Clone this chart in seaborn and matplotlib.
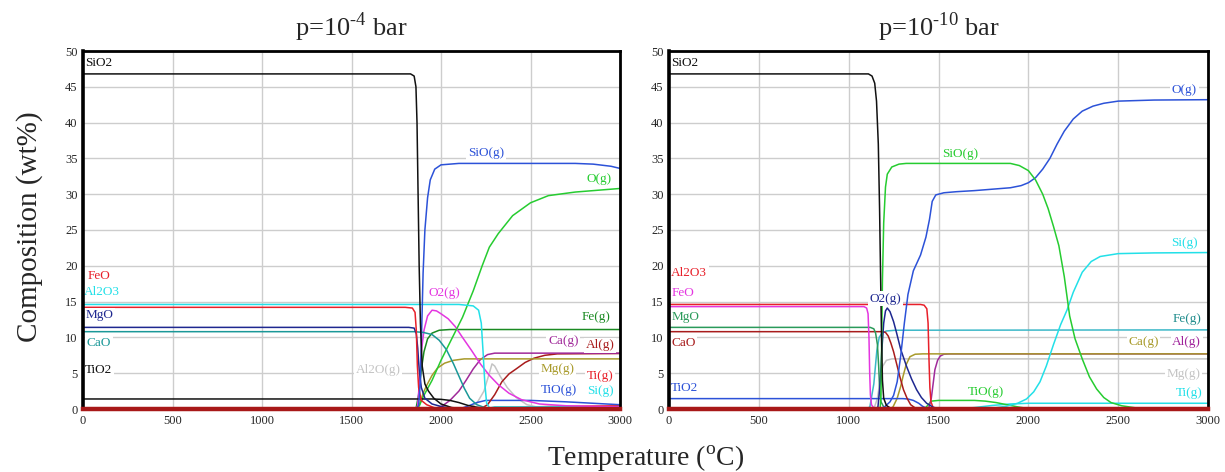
import matplotlib
matplotlib.use("Agg")
import matplotlib.pyplot as plt
import pandas as pd
import seaborn as sns

# ---------------- p = 1e-4 bar : (temperature degC, wt%) ----------------
A_SiO2 = [(0, 46.8), (1830, 46.8), (1850, 46.5), (1860, 45), (1866, 40), (1872, 30), (1878, 20),
          (1885, 12), (1895, 6), (1910, 3.5), (1930, 2.5), (1960, 1.5), (2000, 0.7), (2060, 0.2),
          (2150, 0), (3000, 0)]
A_SiOg = [(0, 0), (1860, 0), (1875, 0.5), (1885, 4), (1892, 11), (1900, 19), (1910, 25), (1925, 29.5),
          (1940, 32), (1965, 33.5), (2000, 34.1), (2100, 34.3), (2750, 34.3), (2850, 34.2),
          (2950, 33.9), (3000, 33.6)]
A_Og = [(0, 0), (1860, 0), (1880, 0.5), (1900, 1.7), (1950, 4), (2000, 6.8), (2060, 9.8), (2120, 12.8),
        (2180, 16.5), (2230, 20), (2270, 22.6), (2320, 24.5), (2400, 27), (2500, 28.8), (2600, 29.8),
        (2750, 30.3), (3000, 30.8)]
A_FeO = [(0, 14.2), (1800, 14.2), (1840, 14.1), (1855, 13.5), (1862, 11), (1868, 6), (1875, 3),
         (1890, 1.2), (1920, 0.6), (1960, 0.2), (2000, 0), (3000, 0)]
A_Al2O3 = [(0, 14.6), (2100, 14.6), (2180, 14.4), (2210, 13.8), (2225, 12), (2235, 8), (2245, 3.5),
           (2255, 0.8), (2270, 0.2), (2300, 0), (3000, 0)]
A_MgO = [(0, 11.4), (1820, 11.4), (1850, 11.3), (1862, 10.5), (1870, 8.5), (1878, 5.5), (1890, 3),
         (1910, 1.5), (1950, 0.7), (2000, 0.35), (2050, 0.15), (2100, 0), (3000, 0)]
A_CaO = [(0, 10.8), (1850, 10.8), (1900, 10.7), (1950, 10.4), (1990, 9.6), (2030, 8.3), (2070, 6.3),
         (2100, 4.6), (2130, 2.9), (2160, 1.5), (2200, 0.6), (2250, 0.15), (2300, 0), (3000, 0)]
A_TiO2 = [(0, 1.4), (1950, 1.4), (2000, 1.35), (2050, 1.2), (2100, 0.9), (2150, 0.5), (2200, 0.25),
          (2250, 0.1), (2300, 0), (3000, 0)]
A_O2g = [(0, 0), (1860, 0), (1870, 0.5), (1880, 4), (1890, 8), (1905, 11), (1925, 13), (1950, 13.8),
         (1975, 13.7), (2000, 13.3), (2040, 12.6), (2080, 11.5), (2120, 10), (2170, 8.2), (2220, 6.3),
         (2270, 4.7), (2320, 3.4), (2380, 2.2), (2450, 1.3), (2550, 0.7), (2700, 0.45), (3000, 0.3)]
A_Feg = [(0, 0), (1860, 0), (1875, 2), (1890, 5.5), (1905, 8), (1925, 9.8), (1950, 10.6), (1990, 11),
         (2050, 11.1), (3000, 11.1)]
A_Cag = [(0, 0), (1950, 0), (2000, 0.3), (2050, 1.2), (2100, 2.5), (2140, 4), (2180, 5.6), (2220, 6.9),
         (2260, 7.6), (2300, 7.8), (3000, 7.8)]
A_Alg = [(0, 0), (2220, 0), (2260, 0.6), (2300, 2), (2340, 3.8), (2380, 4.9), (2420, 5.6), (2470, 6.5),
         (2520, 7.1), (2580, 7.5), (2650, 7.7), (3000, 7.75)]
A_Mgg = [(0, 0), (1870, 0), (1885, 1), (1900, 2.2), (1920, 3.3), (1950, 4.7), (1980, 5.7), (2020, 6.4),
         (2070, 6.8), (2130, 7.0), (3000, 7.0)]
A_Al2Og = [(0, 0), (2150, 0), (2200, 0.8), (2240, 2.5), (2270, 5), (2285, 6.3), (2300, 6), (2330, 4.6),
           (2370, 3), (2420, 1.6), (2480, 0.6), (2550, 0.2), (2650, 0), (3000, 0)]
A_Tig = [(0, 0), (2250, 0), (2400, 0.2), (2600, 0.35), (3000, 0.45)]
A_TiOg = [(0, 0), (2100, 0), (2150, 0.4), (2200, 0.9), (2250, 1.2), (2500, 1.2), (2700, 1.0),
          (2850, 0.8), (3000, 0.6)]
A_Sig = [(0, 0), (2250, 0), (2300, 0.3), (3000, 0.3)]

# ---------------- p = 1e-10 bar ----------------
B_SiO2 = [(0, 46.8), (1110, 46.8), (1130, 46.5), (1145, 45.5), (1155, 43), (1165, 37), (1172, 28),
          (1178, 18), (1183, 10), (1188, 4), (1195, 1.5), (1210, 0.5), (1240, 0), (3000, 0)]
B_SiOg = [(0, 0), (1175, 0), (1180, 2), (1184, 10), (1188, 18), (1195, 26), (1205, 31), (1215, 32.8),
          (1240, 33.8), (1280, 34.2), (1320, 34.3), (1900, 34.3), (1950, 34.0), (2000, 33.3),
          (2040, 32), (2080, 30), (2110, 28), (2140, 25.5), (2170, 22.8), (2200, 18.5), (2230, 13),
          (2260, 9.8), (2300, 7), (2340, 4.5), (2380, 2.8), (2420, 1.6), (2460, 0.9), (2520, 0.45),
          (2600, 0.15), (2700, 0), (3000, 0)]
B_Og = [(0, 0), (1170, 0), (1200, 0.3), (1230, 1), (1250, 1.9), (1270, 3.8), (1290, 7.5), (1310, 12),
        (1330, 16), (1360, 19.3), (1400, 21.5), (1430, 24), (1450, 26.5), (1465, 29), (1485, 29.9),
        (1530, 30.2), (1600, 30.35), (1700, 30.5), (1800, 30.7), (1900, 30.9), (1960, 31.2),
        (2000, 31.6), (2040, 32.3), (2080, 33.5), (2120, 35), (2160, 37), (2200, 38.8), (2250, 40.5),
        (2300, 41.6), (2360, 42.3), (2420, 42.7), (2500, 43), (2700, 43.15), (3000, 43.2)]
B_Al2O3 = [(0, 14.6), (1400, 14.6), (1420, 14.5), (1435, 14), (1442, 12), (1447, 7), (1452, 3),
           (1458, 1), (1470, 0.2), (1500, 0), (3000, 0)]
B_FeO = [(0, 14.3), (1085, 14.3), (1100, 14.1), (1108, 13.3), (1113, 10), (1117, 5), (1121, 2),
         (1127, 0.6), (1140, 0.15), (1170, 0), (3000, 0)]
B_MgO = [(0, 11.4), (1120, 11.4), (1140, 11.2), (1150, 10.6), (1160, 9), (1167, 6), (1172, 3),
         (1180, 1), (1195, 0.3), (1230, 0), (3000, 0)]
B_CaO = [(0, 10.8), (1190, 10.8), (1205, 10.7), (1220, 10.2), (1235, 9.2), (1250, 8), (1265, 6.5),
         (1285, 4.5), (1305, 2.7), (1325, 1.5), (1345, 0.6), (1370, 0.15), (1400, 0), (3000, 0)]
B_TiO2 = [(0, 1.45), (1300, 1.45), (1330, 1.4), (1360, 1.2), (1390, 0.8), (1410, 0.4), (1430, 0.15),
          (1460, 0), (3000, 0)]
B_O2g = [(0, 0), (1150, 0), (1163, 0.3), (1175, 3.5), (1184, 8), (1195, 12), (1205, 13.7), (1215, 14.1),
         (1230, 13.6), (1250, 12.2), (1267, 10.6), (1290, 8.3), (1323, 5.9), (1350, 4.2), (1378, 2.7),
         (1405, 1.6), (1434, 0.8), (1470, 0.25), (1510, 0), (3000, 0)]
B_Feg = [(0, 0), (1100, 0), (1118, 0.3), (1140, 3.5), (1157, 8.2), (1170, 10), (1185, 10.6),
         (1210, 10.9), (1260, 11), (3000, 11.05)]
B_Cag = [(0, 0), (1230, 0), (1247, 0.3), (1270, 1.5), (1290, 3.2), (1302, 4.5), (1320, 6.2),
         (1341, 7.3), (1370, 7.65), (1413, 7.7), (3000, 7.7)]
B_Alg = [(0, 0), (1430, 0), (1448, 0.3), (1460, 1.5), (1470, 3.5), (1480, 5.5), (1495, 6.8),
         (1510, 7.4), (1530, 7.65), (1560, 7.7), (3000, 7.7)]
B_Mgg = [(0, 0), (1140, 0), (1160, 1.5), (1175, 4), (1190, 6), (1210, 6.8), (1240, 7.0), (3000, 7.0)]
B_Sig = [(0, 0), (1800, 0.1), (1880, 0.4), (1940, 0.8), (1990, 1.4), (2030, 2.4), (2065, 3.8),
         (2100, 6), (2140, 9), (2180, 11.8), (2215, 13.8), (2250, 16.3), (2300, 19.1), (2350, 20.6),
         (2400, 21.3), (2500, 21.7), (2700, 21.8), (3000, 21.85)]
B_Tig = [(0, 0), (1600, 0), (1700, 0.2), (1800, 0.5), (1900, 0.7), (2000, 0.8), (3000, 0.8)]
B_TiOg = [(0, 0), (1420, 0), (1440, 0.5), (1460, 1.1), (1500, 1.2), (1700, 1.2), (1760, 1.1),
          (1820, 0.9), (1880, 0.6), (1940, 0.3), (1990, 0.1), (2050, 0), (3000, 0)]

# pressure exponents shown in the panel titles (a plain hyphen keeps the short dash)
PRESSURE_EXP = ["\u20104", "\u201010"]
X_TICKS = [0, 500, 1000, 1500, 2000, 2500, 3000]
Y_TICKS = [0, 5, 10, 15, 20, 25, 30, 35, 40, 45, 50]

BLACK, RED, CYAN, MAGENTA = "#111111", "#e8202a", "#22e0e8", "#e436e0"
BLUE, NAVY, GREEN, DKGREEN = "#2c52d8", "#1e2890", "#26cc30", "#1a8a22"
TEAL, PURPLE, DKRED, OLIVE = "#1a9898", "#a02a9a", "#a81c1c", "#a89a2a"
LGRAY, MGREEN, FECYAN = "#c4c4c4", "#2a9a5a", "#3cb8c8"

# (name, points, colour, label x, label y)  -- drawn in this order
left_series = [
    ("Al2O(g)", A_Al2Og, LGRAY, 1648, 5.5),
    ("Ti(g)", A_Tig, RED, 2888, 4.6),
    ("Si(g)", A_Sig, CYAN, 2888, 2.5),
    ("TiO(g)", A_TiOg, BLUE, 2660, 2.65),
    ("Al(g)", A_Alg, DKRED, 2888, 8.9),
    ("Ca(g)", A_Cag, PURPLE, 2683, 9.5),
    ("Mg(g)", A_Mgg, OLIVE, 2651, 5.6),
    ("Fe(g)", A_Feg, DKGREEN, 2866, 12.9),
    ("O2(g)", A_O2g, MAGENTA, 2017, 16.2),
    ("O(g)", A_Og, GREEN, 2883, 32.1),
    ("TiO2", A_TiO2, BLACK, 12, 5.4),
    ("CaO", A_CaO, TEAL, 22, 9.2),
    ("MgO", A_MgO, NAVY, 12, 13.1),
    ("Al2O3", A_Al2O3, CYAN, 6, 16.3),
    ("FeO", A_FeO, RED, 28, 18.6),
    ("SiO(g)", A_SiOg, BLUE, 2251, 35.8),
    ("SiO2", A_SiO2, BLACK, 12, 48.3),
]
right_series = [
    ("Mg(g)", B_Mgg, LGRAY, 2864, 4.9),
    ("Ti(g)", B_Tig, CYAN, 2898, 2.2),
    ("TiO(g)", B_TiOg, GREEN, 1763, 2.4),
    ("Al(g)", B_Alg, PURPLE, 2882, 9.3),
    ("Ca(g)", B_Cag, OLIVE, 2641, 9.3),
    ("Fe(g)", B_Feg, FECYAN, 2884, 12.6),
    ("Si(g)", B_Sig, CYAN, 2871, 23.2),
    ("TiO2", B_TiO2, BLUE, 12, 2.9),
    ("CaO", B_CaO, DKRED, 12, 9.2),
    ("MgO", B_MgO, MGREEN, 12, 12.9),
    ("FeO", B_FeO, MAGENTA, 12, 16.2),
    ("Al2O3", B_Al2O3, RED, 12, 19.0),
    ("O2(g)", B_O2g, NAVY, 1207, 15.4),
    ("O(g)", B_Og, BLUE, 2869, 44.5),
    ("SiO(g)", B_SiOg, GREEN, 1619, 35.6),
    ("SiO2", B_SiO2, BLACK, 12, 48.3),
]
left_label_colors = {"Fe(g)": "#1a8a22", "Ca(g)": "#a02a9a"}
right_label_colors = {"Fe(g)": "#1f8c8c", "Al(g)": "#a0229a"}

sns.set_theme(style="white")
plt.rcParams["font.family"] = ["Liberation Serif", "DejaVu Serif"]
plt.rcParams["mathtext.fontset"] = "custom"
plt.rcParams["mathtext.rm"] = "Liberation Serif"
plt.rcParams["axes.unicode_minus"] = False

fig = plt.figure(figsize=(12.25, 4.72), dpi=100)
ax_l = fig.add_axes([83 / 1225, 63 / 472, 537 / 1225, 358 / 472])
ax_r = fig.add_axes([669 / 1225, 63 / 472, 539 / 1225, 358 / 472])


def draw_panel(ax, series, exponent, label_colors):
    rows = [(name, t, w) for name, pts, _, _, _ in series for t, w in pts]
    df = pd.DataFrame(rows, columns=["species", "T", "wt"])
    order = [s[0] for s in series]
    palette = {s[0]: s[2] for s in series}
    sns.lineplot(data=df, x="T", y="wt", hue="species", hue_order=order, palette=palette,
                 estimator=None, sort=False, legend=False, linewidth=1.1, ax=ax)
    for name, _, color, lx, ly in series:
        ha = "left" if lx < 100 else "center"
        ax.text(lx, ly, name, color=label_colors.get(name, color), fontsize=9.5, ha=ha, va="center",
                zorder=2.3, bbox=dict(boxstyle="square,pad=0.12", fc="white", ec="none"))
    ax.set_xlim(0, 3000)
    ax.set_ylim(0, 50)
    ax.set_xticks(X_TICKS)
    ax.set_yticks(Y_TICKS)
    ax.set_xticklabels([str(v) for v in X_TICKS], fontsize=9)
    ax.set_yticklabels([str(v) for v in Y_TICKS], fontsize=9)
    ax.tick_params(length=0, pad=4)
    ax.grid(True, color="#cdcdcd", linewidth=1.0)
    ax.set_axisbelow(True)
    ax.set_xlabel("")
    ax.set_ylabel("")
    for side in ("left", "top", "right"):
        ax.spines[side].set_color("black")
        ax.spines[side].set_linewidth(2.0)
        ax.spines[side].set_zorder(4)
    ax.spines["left"].set_linewidth(2.6)
    ax.spines["bottom"].set_color("#a81818")
    ax.spines["bottom"].set_linewidth(3.2)
    ax.spines["bottom"].set_zorder(4)
    ax.set_title("p=10$^{\\mathregular{" + exponent + "}}$ bar", fontsize=19, pad=11)


draw_panel(ax_l, left_series, PRESSURE_EXP[0], left_label_colors)
draw_panel(ax_r, right_series, PRESSURE_EXP[1], right_label_colors)

fig.text(0.024, 0.52, "Composition (wt%)", rotation=90, fontsize=21, ha="center", va="center")
fig.text(0.527, 0.028, "Temperature ($^{\\mathregular{o}}$C)", fontsize=20, ha="center", va="center")

fig.savefig("out.png", dpi=100, facecolor="white")
